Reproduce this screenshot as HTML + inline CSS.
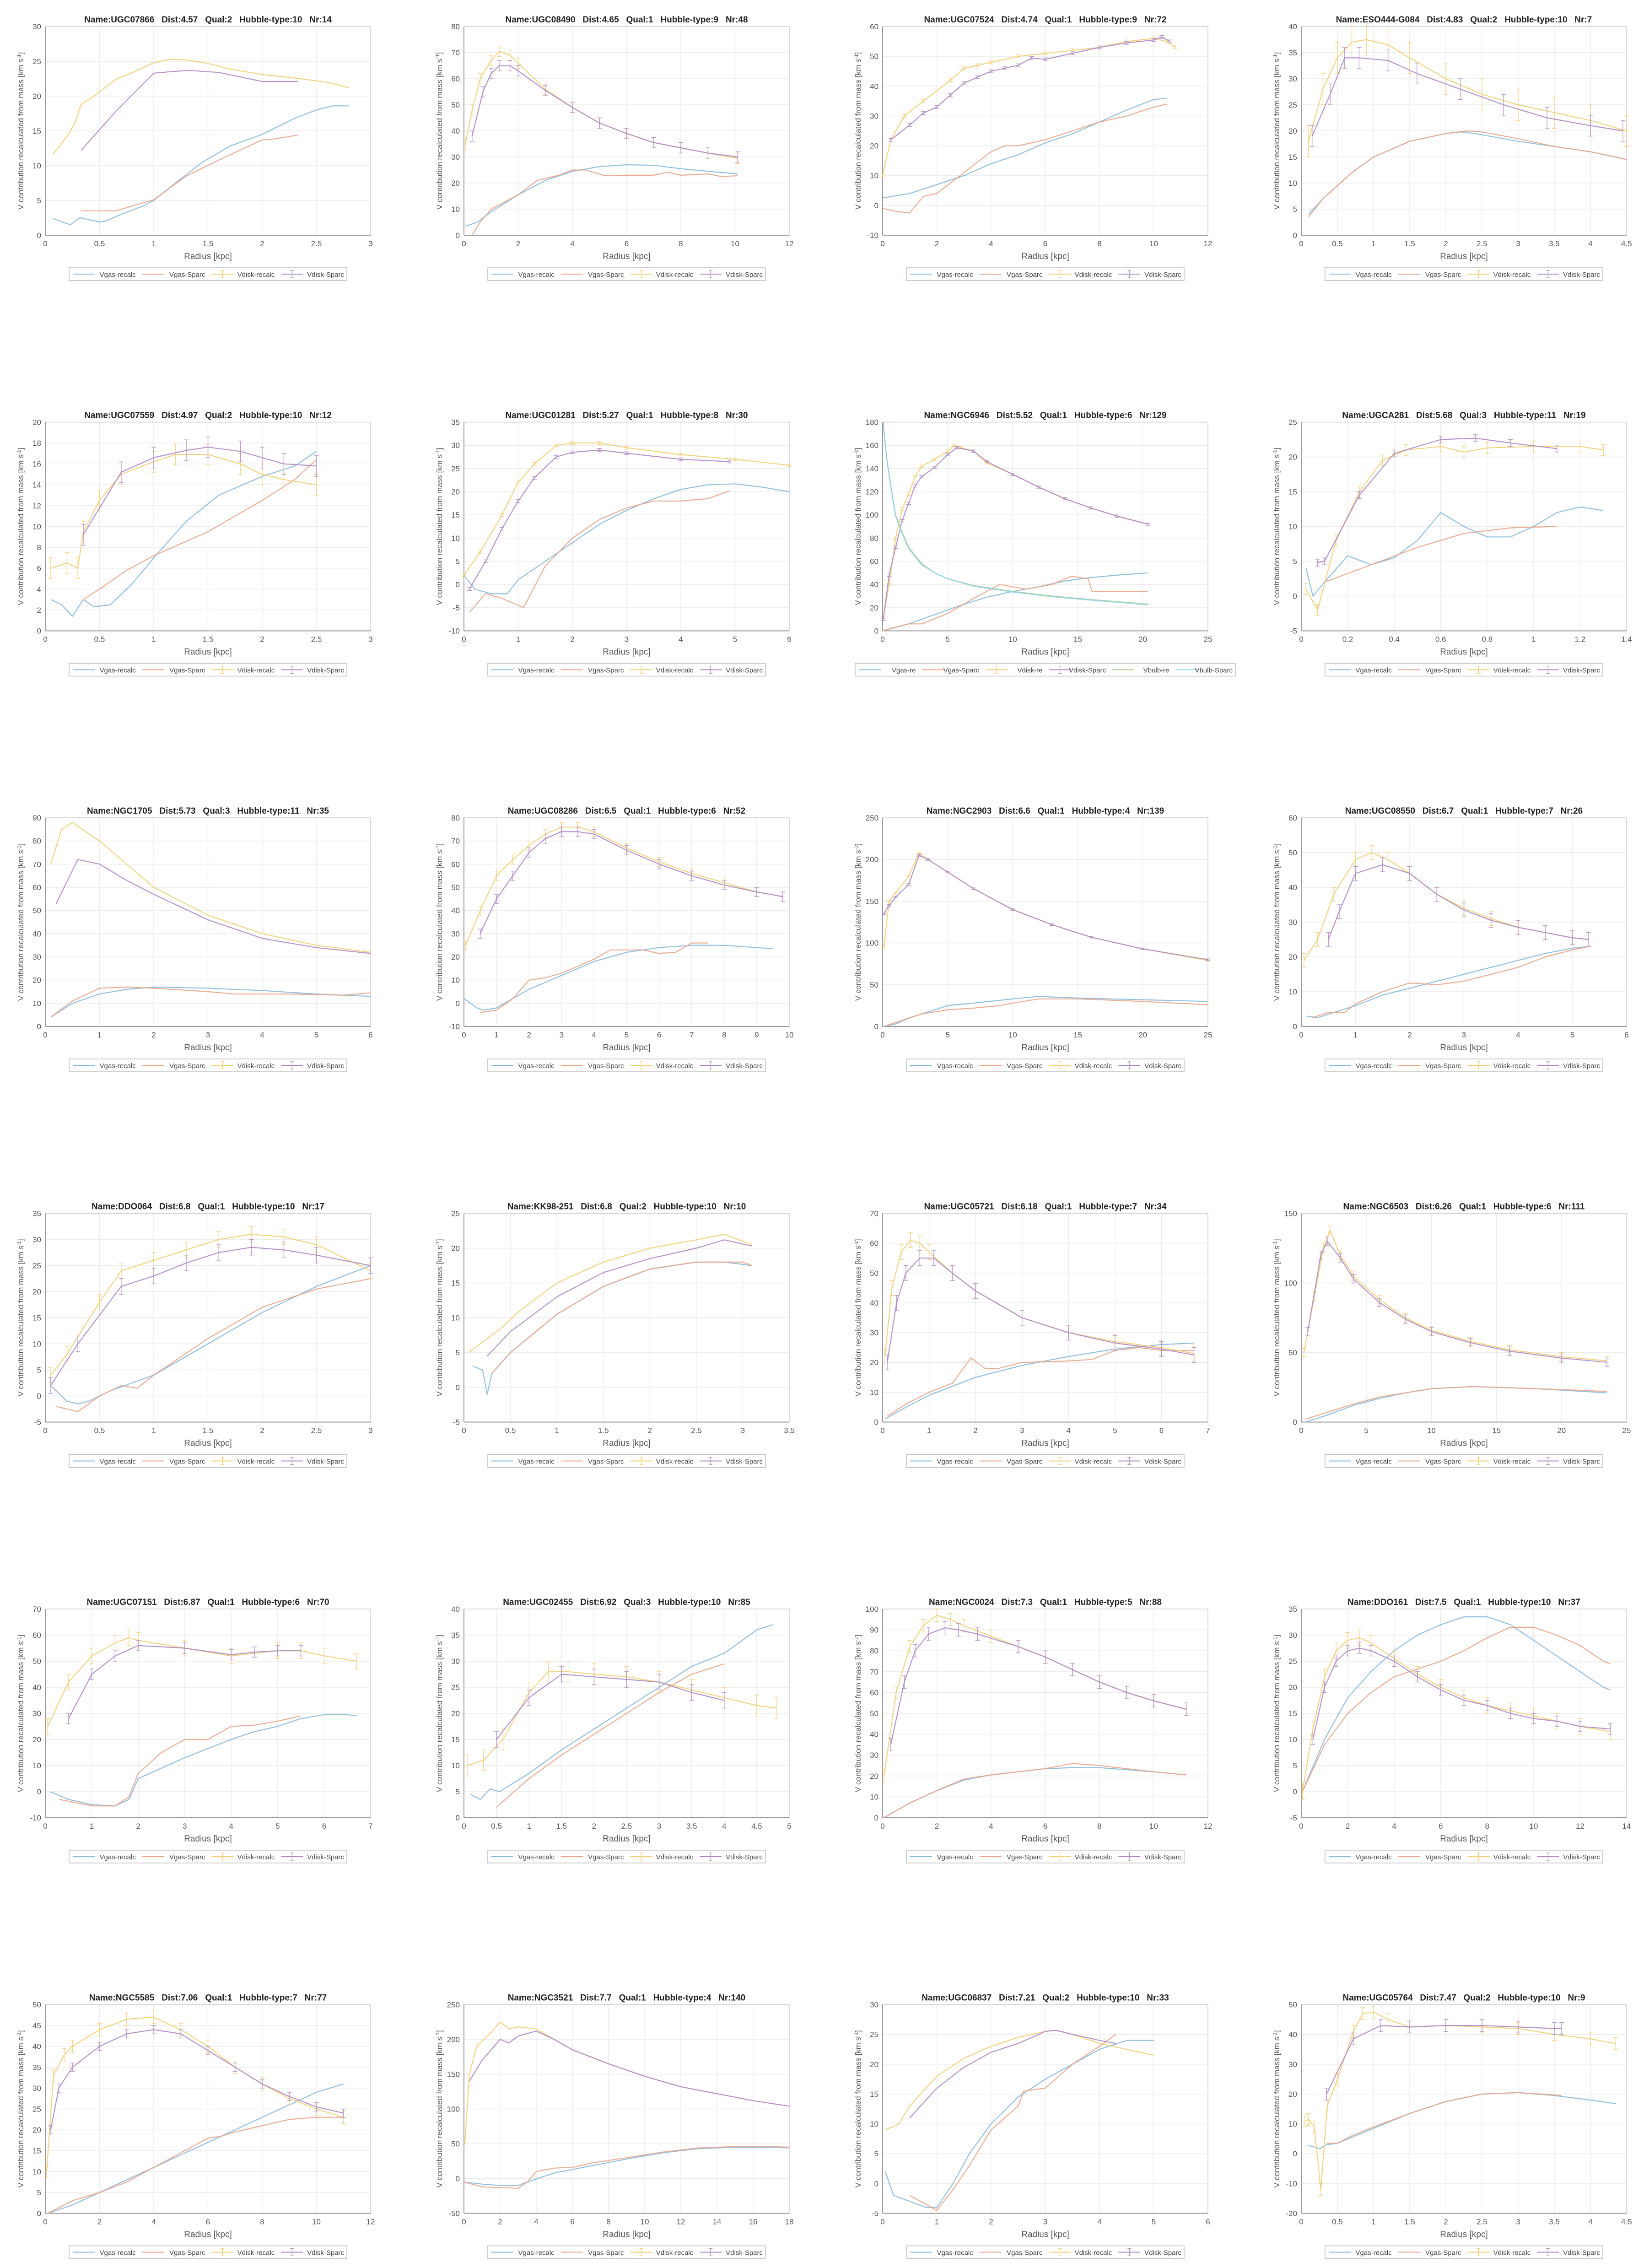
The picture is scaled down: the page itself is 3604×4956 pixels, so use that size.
<!DOCTYPE html>
<html><head><meta charset="utf-8"><title>Rotation curve contributions</title>
<style>
html,body{margin:0;padding:0;background:#fff;}
svg{display:block;}
text{font-family:"Liberation Sans",Arial,sans-serif;}
.ttl{white-space:pre;}
</style></head>
<body>
<svg id="fig" width="3604" height="4956" viewBox="0 0 3604 4956" xmlns="http://www.w3.org/2000/svg"></svg>
<script>
// ---- panel metadata ----
const titles = [
"Name:UGC07866   Dist:4.57   Qual:2   Hubble-type:10   Nr:14",
"Name:UGC08490   Dist:4.65   Qual:1   Hubble-type:9   Nr:48",
"Name:UGC07524   Dist:4.74   Qual:1   Hubble-type:9   Nr:72",
"Name:ESO444-G084   Dist:4.83   Qual:2   Hubble-type:10   Nr:7",
"Name:UGC07559   Dist:4.97   Qual:2   Hubble-type:10   Nr:12",
"Name:UGC01281   Dist:5.27   Qual:1   Hubble-type:8   Nr:30",
"Name:NGC6946   Dist:5.52   Qual:1   Hubble-type:6   Nr:129",
"Name:UGCA281   Dist:5.68   Qual:3   Hubble-type:11   Nr:19",
"Name:NGC1705   Dist:5.73   Qual:3   Hubble-type:11   Nr:35",
"Name:UGC08286   Dist:6.5   Qual:1   Hubble-type:6   Nr:52",
"Name:NGC2903   Dist:6.6   Qual:1   Hubble-type:4   Nr:139",
"Name:UGC08550   Dist:6.7   Qual:1   Hubble-type:7   Nr:26",
"Name:DDO064   Dist:6.8   Qual:1   Hubble-type:10   Nr:17",
"Name:KK98-251   Dist:6.8   Qual:2   Hubble-type:10   Nr:10",
"Name:UGC05721   Dist:6.18   Qual:1   Hubble-type:7   Nr:34",
"Name:NGC6503   Dist:6.26   Qual:1   Hubble-type:6   Nr:111",
"Name:UGC07151   Dist:6.87   Qual:1   Hubble-type:6   Nr:70",
"Name:UGC02455   Dist:6.92   Qual:3   Hubble-type:10   Nr:85",
"Name:NGC0024   Dist:7.3   Qual:1   Hubble-type:5   Nr:88",
"Name:DDO161   Dist:7.5   Qual:1   Hubble-type:10   Nr:37",
"Name:NGC5585   Dist:7.06   Qual:1   Hubble-type:7   Nr:77",
"Name:NGC3521   Dist:7.7   Qual:1   Hubble-type:4   Nr:140",
"Name:UGC06837   Dist:7.21   Qual:2   Hubble-type:10   Nr:33",
"Name:UGC05764   Dist:7.47   Qual:2   Hubble-type:10   Nr:9"];
const xMaxes = [3,12,12,4.5, 3,6,25,1.4, 6,10,25,6, 3,3.5,7,25, 7,5,12,14, 12,18,6,4.5];
const xSteps = [0.5,2,2,0.5, 0.5,1,5,0.2, 1,1,5,1, 0.5,0.5,1,5, 1,0.5,2,2, 2,2,1,0.5];
const yMins  = [0,0,-10,0, 0,-10,0,-5, 0,-10,0,0, -5,-5,0,0, -10,0,0,-5, 0,-50,-5,-20];
const yMaxes = [30,80,60,40, 20,35,180,25, 90,80,250,60, 35,25,70,150, 70,40,100,35, 50,250,30,50];
const ySteps = [5,10,10,5, 2,5,20,5, 10,10,50,10, 5,5,10,50, 10,5,10,5, 5,50,5,10];
const errYellow = [0,2,0.5,3, 1,0.3,1,0.8, 0,2,1,2, 1.5,0,2.5,3, 3,2,3,1.5, 1.5,0,0,2];
const errPurple = [0,2,0.5,2, 1,0.3,1,0.5, 0,2,1,2, 1.5,0,2.5,3, 2,1.5,3,1, 1,0,0,2];

// ---- series data: [radius kpc, velocity km/s] ----
const p01_gasRe=[[0.07,2.4],[0.23,1.5],[0.32,2.5],[0.5,1.9],[0.55,2],[0.7,3],[0.9,4.2],[1,5],[1.2,7.5],[1.45,10.5],[1.7,12.8],[2,14.5],[2.3,16.8],[2.5,18],[2.65,18.6],[2.8,18.6]];
const p01_gasSp=[[0.33,3.5],[0.65,3.5],[1,5.1],[1.3,8.5],[1.6,10.8],[2,13.7],[2.1,13.8],[2.33,14.4]];
const p01_dskRe=[[0.07,11.6],[0.2,14.2],[0.27,16],[0.33,18.8],[0.45,20],[0.65,22.4],[0.85,23.7],[1,24.8],[1.15,25.3],[1.3,25.2],[1.5,24.7],[1.7,23.9],[2,23.1],[2.3,22.6],[2.6,22],[2.8,21.2]];
const p01_dskSp=[[0.33,12.2],[0.65,17.8],[1,23.3],[1.15,23.5],[1.32,23.7],[1.6,23.4],[2,22.1],[2.33,22.1]];

const p02_gasRe=[[0.05,3.5],[0.5,5],[1,9],[2,15.5],[3,21],[4,24.5],[5,26.3],[6,27],[7,26.8],[8,25.5],[9,24.5],[10.1,23.5]];
const p02_gasSp=[[0.3,0],[0.6,5],[1,10],[2,15.5],[2.7,21],[3.5,23],[4,25],[4.5,25],[5.2,22.8],[6,23],[7,23],[7.5,24.2],[8,23],[9,23.5],[9.5,22.5],[10.1,22.8]];
const p02_dskRe=[[0.05,35],[0.3,48],[0.6,60],[1,67],[1.3,70.5],[1.7,69],[2,66],[3,56],[4,49],[5,43],[6,39],[7,35.5],[8,33.5],[9,31.5],[10.1,29.5]];
const p02_dskSp=[[0.3,38],[0.7,55],[1,62],[1.3,65],[1.7,65],[2,63],[3,55.5],[4,49],[5,43],[6,39],[7,35.5],[8,33.5],[9,31.5],[10.1,30]];

const p03_gasRe=[[0,2.5],[1,4],[2,7],[3,10],[4,14],[5,17],[6,21],[7,24],[8,28],[9,32],[10,35.5],[10.5,36]];
const p03_gasSp=[[0,-1],[0.5,-2],[1,-2.5],[1.5,3],[2,4],[3,11],[4,18],[4.5,20],[5,20],[6,22],[7,25],[8,28],[9,30],[10,33],[10.5,34]];
const p03_dskRe=[[0,10],[0.3,22],[0.8,30],[1.5,35],[2.5,42],[3,46],[3.5,47],[4,48],[5,50],[6,51],[7,52],[8,53],[9,55],[10,56],[10.5,55],[10.8,53]];
const p03_dskSp=[[0.3,22],[1,27],[1.5,31],[2,33],[2.5,37],[3,41],[3.5,43],[4,45],[4.5,46],[5,47],[5.5,49.5],[6,49],[7,51],[8,53],[9,54.5],[10,55.5],[10.3,56.5],[10.6,55]];

const p04_gasRe=[[0.1,4],[0.3,7],[0.7,12],[1,15],[1.5,18],[2,19.5],[2.2,19.8],[2.4,19.5],[3,18],[3.5,17],[4,16],[4.5,14.5]];
const p04_gasSp=[[0.1,3.5],[0.3,7],[0.7,12],[1,15],[1.5,18],[2,19.5],[2.3,20],[2.5,19.8],[3,18.5],[3.5,17],[4,16],[4.5,14.5]];
const p04_dskRe=[[0.1,18],[0.3,28],[0.5,34],[0.7,37],[0.9,37.5],[1.2,36.5],[1.5,34],[2,30],[2.5,27],[3,25],[3.5,23.5],[4,22],[4.5,20]];
const p04_dskSp=[[0.15,19],[0.4,27],[0.6,34],[0.8,34],[1.2,33.5],[1.6,31],[2.2,28],[2.8,25],[3.4,22.5],[4,21],[4.45,20]];

const p05_gasRe=[[0.05,3],[0.15,2.5],[0.25,1.4],[0.35,3],[0.45,2.3],[0.6,2.5],[0.8,4.5],[1,7],[1.3,10.5],[1.6,13],[2,14.8],[2.3,15.8],[2.5,17.2]];
const p05_gasSp=[[0.35,3],[0.5,4],[0.75,5.8],[1,7.2],[1.5,9.5],[2,12.5],[2.3,14.5],[2.5,16.4]];
const p05_dskRe=[[0.05,6],[0.2,6.5],[0.3,6],[0.35,9.5],[0.5,12.5],[0.7,15],[1,16.2],[1.2,16.9],[1.5,16.9],[1.8,16],[2,15],[2.2,14.5],[2.5,14]];
const p05_dskSp=[[0.35,9.2],[0.7,15.2],[1,16.6],[1.3,17.3],[1.5,17.6],[1.8,17.2],[2,16.6],[2.2,16],[2.5,15.8]];

const p06_gasRe=[[0,2],[0.2,-1],[0.5,-2],[0.8,-2],[1,1],[1.5,5],[2,9],[2.5,13],[3,16],[3.5,18.5],[4,20.5],[4.5,21.5],[5,21.7],[5.5,21],[6,20]];
const p06_gasSp=[[0.1,-6],[0.4,-2],[0.7,-3],[1.1,-5],[1.5,4],[2,10],[2.5,14],[3,16.5],[3.5,18],[4,18],[4.5,18.5],[4.9,20.2]];
const p06_dskRe=[[0,2],[0.3,7],[0.7,15],[1,22],[1.3,26],[1.7,30],[2,30.5],[2.5,30.5],[3,29.5],[4,28],[5,27],[6,25.7]];
const p06_dskSp=[[0.1,-1],[0.4,5],[0.7,12],[1,18],[1.3,23],[1.7,27.5],[2,28.5],[2.5,29],[3,28.3],[4,27],[4.9,26.5]];

const p07_gasRe=[[0,0],[2,6],[4,14],[6,22],[8,29],[10,34],[12,38],[14,43],[16,46],[18,48],[20.4,50]];
const p07_gasSp=[[0,0],[2,6],[3,6],[5,15],[7,28],[9,40],[11,36],[13,40],[14.5,47],[15.8,45],[16.1,34],[20.4,34]];
const p07_dskRe=[[0.05,10],[0.5,40],[1,80],[1.5,105],[2,118],[2.5,133],[3,142],[4,148],[5,155],[5.5,160],[6,158],[7,155],[8,145],[10,135],[12,124],[14,114],[16,106],[18,99],[20.4,92]];
const p07_dskSp=[[0.05,10],[0.5,48],[1,72],[1.5,95],[2,110],[2.5,125],[3,133],[4,141],[5,152],[5.7,158],[7,155],[8,146],[10,135],[12,124],[14,114],[16,106],[18,99],[20.4,92]];
const p07_blbRe=[[0.05,180],[0.3,150],[0.7,120],[1,100],[1.5,85],[2,72],[3,58],[4,50],[5,45],[7,39],[10,34],[13,30],[16,27],[20.4,23]];
const p07_blbSp=[[0.05,178],[0.3,149],[0.7,119],[1,99],[1.5,84],[2,71],[3,57],[4,50],[5,45],[7,38.5],[10,33.5],[13,29.5],[16,26.5],[20.4,22.5]];

const p08_gasRe=[[0.02,4],[0.05,0],[0.1,2],[0.2,5.8],[0.3,4.5],[0.4,5.5],[0.5,8],[0.6,12],[0.7,10],[0.8,8.5],[0.9,8.5],[1,10],[1.1,12],[1.2,12.8],[1.3,12.3]];
const p08_gasSp=[[0.1,2],[0.3,4.5],[0.5,7],[0.7,9],[0.9,9.8],[1.1,10]];
const p08_dskRe=[[0.02,1],[0.07,-2],[0.15,8],[0.25,15],[0.35,19.5],[0.45,21],[0.6,21.5],[0.7,20.7],[0.8,21.3],[1,21.5],[1.2,21.5],[1.3,21]];
const p08_dskSp=[[0.07,4.8],[0.1,5],[0.25,14.5],[0.4,20.5],[0.6,22.5],[0.75,22.7],[0.9,22],[1.1,21.2]];

const p09_gasRe=[[0.1,4],[0.5,10],[1,14],[1.5,16],[2,17],[3,16.5],[4,15.5],[5,14],[6,13]];
const p09_gasSp=[[0.1,4],[0.5,11],[1,16.5],[1.5,17],[2,16.5],[3,15],[3.5,14],[4.5,14],[5.5,13.5],[6,14.5]];
const p09_dskRe=[[0.1,70],[0.3,85],[0.5,88],[1,80],[1.5,70],[2,60],[3,48],[4,40],[5,35],[6,32]];
const p09_dskSp=[[0.2,53],[0.6,72],[1,70],[1.5,63],[2,57],[3,46],[4,38],[5,34],[6,31.5]];

const p10_gasRe=[[0,2],[0.2,0],[0.4,-2],[0.6,-3],[1,-2],[2,6],[3,12],[4,18],[5,22],[6,24],[7,25],[8,25],[9,24],[9.5,23.5]];
const p10_gasSp=[[0.5,-4],[1,-3],[1.5,2],[2,10],[2.5,11],[3,13],[4,19],[4.5,23],[5.5,23],[6,21.5],[6.5,22],[7,26],[7.5,26]];
const p10_dskRe=[[0.05,25],[0.5,40],[1,55],[1.5,62],[2,68],[2.5,73],[3,76],[3.5,76],[4,74],[5,67],[6,61],[7,56],[8,52],[9,48],[9.8,46]];
const p10_dskSp=[[0.5,30],[1,45],[1.5,55],[2,65],[2.5,71],[3,74],[3.5,74],[4,73],[5,66],[6,60],[7,55],[8,51],[9,48],[9.8,46]];

const p11_gasRe=[[0.1,0],[1,3],[2,10],[3,15],[5,25],[7,28],[10,33],[12,36],[15,34],[20,32],[25,30]];
const p11_gasSp=[[0.1,0],[2,10],[3,15],[5,20],[7,22],[9,25],[10,28],[12,33],[15,33],[20,30],[25,26]];
const p11_dskRe=[[0.1,95],[0.5,150],[1,160],[2,180],[2.8,208],[3.5,200],[5,185],[7,165],[10,140],[13,122],[16,107],[20,93],[25,79]];
const p11_dskSp=[[0.1,135],[0.5,145],[1,155],[2,170],[2.8,205],[3.5,200],[5,185],[7,165],[10,140],[13,122],[16,107],[20,93],[25,80]];

const p12_gasRe=[[0.1,3],[0.3,2.5],[0.6,4],[1,6],[1.5,9],[2,11],[2.5,13],[3,15],[3.5,17],[4,19],[4.5,21],[5,22.5],[5.3,23]];
const p12_gasSp=[[0.2,2.5],[0.5,4],[0.8,4],[1,6.5],[1.5,10],[2,12.5],[2.5,12],[3,13],[3.5,15],[4,17],[4.5,20],[5,22],[5.3,23]];
const p12_dskRe=[[0.05,19],[0.3,25],[0.6,38],[1,48],[1.3,50],[1.6,48],[2,44],[2.5,38],[3,34],[3.5,31],[4,28.5],[4.5,27],[5,25.5],[5.3,25]];
const p12_dskSp=[[0.5,25],[0.7,33],[1,44],[1.5,46.5],[2,44],[2.5,38],[3,33.5],[3.5,30.5],[4,28.5],[4.5,27],[5,25.5],[5.3,25]];

const p13_gasRe=[[0.05,2],[0.1,1],[0.2,-1],[0.3,-1.5],[0.4,-1],[0.6,1],[1,4],[1.5,10],[2,16],[2.5,21],[3,25]];
const p13_gasSp=[[0.1,-2],[0.3,-3],[0.5,0],[0.7,2],[0.85,1.5],[1,4],[1.5,11],[2,17],[2.5,20.5],[3,22.5]];
const p13_dskRe=[[0.05,4],[0.2,8],[0.5,18],[0.7,24],[1,26],[1.3,28],[1.6,30],[1.9,31],[2.2,30.5],[2.5,29],[3,24]];
const p13_dskSp=[[0.05,2],[0.3,10],[0.7,21],[1,23],[1.3,25.5],[1.6,27.5],[1.9,28.5],[2.2,28],[2.5,27],[3,25]];

const p14_gasRe=[[0.1,3],[0.2,2.5],[0.25,-1],[0.3,2],[0.5,5],[1,10.5],[1.5,14.5],[2,17],[2.5,18],[2.8,18],[3.1,17.5]];
const p14_gasSp=[[0.3,2],[0.5,5],[1,10.5],[1.5,14.5],[2,17],[2.5,18],[3,18],[3.1,17.5]];
const p14_dskRe=[[0.05,5],[0.25,7],[0.4,8.5],[0.6,11],[1,15],[1.5,18],[2,20],[2.5,21.2],[2.8,22],[3.1,20.5]];
const p14_dskSp=[[0.25,4.5],[0.5,8],[1,13],[1.5,16.5],[2,18.5],[2.5,20],[2.8,21.2],[3.1,20.3]];

const p15_gasRe=[[0.05,1],[0.5,5],[1,9],[1.5,12],[2,15],[3,19],[4,22],[5,24.5],[6,26],[6.7,26.5]];
const p15_gasSp=[[0.1,2],[0.5,6],[1,10],[1.5,13],[1.9,21.5],[2.2,18],[2.5,18],[3,20],[4,20.5],[4.5,21],[5,24],[5.5,25],[6,24],[6.7,24]];
const p15_dskRe=[[0.05,22],[0.2,45],[0.4,57],[0.6,61],[0.8,60],[1,57],[1.5,50],[2,44],[3,35],[4,30],[5,27],[6,25],[6.7,23]];
const p15_dskSp=[[0.1,20],[0.3,40],[0.5,50],[0.8,55],[1.1,55],[1.5,50],[2,44],[3,35],[4,30],[5,26.5],[6,24.5],[6.7,22.5]];

const p16_gasRe=[[0.3,0],[2,5],[4,12],[6,17],[8,21],[10,24],[13,25.5],[15,25],[18,24],[20,23],[23.5,21]];
const p16_gasSp=[[0.3,2],[2,7],[4,13],[6,18],[8,21],[10,24],[13,25.5],[15,25],[18,24],[21,23],[23.5,22]];
const p16_dskRe=[[0.2,50],[1,90],[1.7,125],[2.2,138],[3,120],[4,105],[6,88],[8,75],[10,66],[13,58],[16,52],[20,47],[23.5,44]];
const p16_dskSp=[[0.5,65],[1.5,120],[2,130],[3,118],[4,103],[6,86],[8,74],[10,65],[13,57],[16,51],[20,46],[23.5,43]];

const p17_gasRe=[[0.1,0],[0.5,-3],[1,-5],[1.5,-5.5],[1.8,-3],[2,5],[3,13],[4,20],[4.5,23],[5,25],[5.5,28],[6,29.5],[6.5,29.5],[6.7,29]];
const p17_gasSp=[[0.3,-3],[1,-5.5],[1.5,-5.5],[1.8,-2],[2,7],[2.5,15],[3,20],[3.5,20],[4,25],[4.5,25.5],[5,27],[5.5,29]];
const p17_dskRe=[[0.05,25],[0.5,42],[1,52],[1.5,57],[1.8,59],[2,58],[3,55],[4,52],[5,54],[5.5,54],[6,52],[6.7,50]];
const p17_dskSp=[[0.5,28],[1,45],[1.5,52],[2,56],[3,55],[4,52.5],[4.5,53.5],[5,54],[5.5,54]];

const p18_gasRe=[[0.1,4.5],[0.25,3.5],[0.4,5.5],[0.55,5],[1,8.5],[1.5,13],[2,17],[2.5,21],[3,25],[3.5,29],[4,31.5],[4.5,36],[4.75,37]];
const p18_gasSp=[[0.5,2],[1,7.5],[1.5,12],[2,16],[2.5,20],[3,24],[3.5,27.5],[4,29.5]];
const p18_dskRe=[[0.05,10],[0.3,11],[0.6,15],[1,24],[1.3,28],[1.6,28],[2,27.5],[2.5,27],[3,26],[3.5,24.5],[4,23],[4.5,21.5],[4.8,21]];
const p18_dskSp=[[0.5,15],[1,23],[1.5,27.5],[2,27],[2.5,26.5],[3,26],[3.5,24],[4,22.5]];

const p19_gasRe=[[0.05,0],[1,7],[2,13],[3,18],[4,20.5],[6,23.5],[7,24],[8,24],[9,23],[10,22],[11.2,20.5]];
const p19_gasSp=[[0.05,0],[1,7],[2,13],[3,18.5],[4,20.5],[6,23.5],[7,26],[8,25],[9,23.5],[10,22],[11.2,20.5]];
const p19_dskRe=[[0.05,20],[0.5,60],[1,82],[1.5,92],[2,97],[2.5,95],[3,92],[4,87],[5,82],[6,77],[7,71],[8,65],[9,60],[10,56],[11.2,52]];
const p19_dskSp=[[0.3,35],[0.8,65],[1.2,80],[1.7,88],[2.3,91],[2.8,90],[3.5,88],[5,82],[6,77],[7,71],[8,65],[9,60],[10,56],[11.2,52]];

const p20_gasRe=[[0.05,0],[1,10],[2,18],[3,23],[4,27],[5,30],[6,32],[7,33.5],[8,33.5],[9,32],[10,29],[11,26],[12,23],[13,20],[13.3,19.5]];
const p20_gasSp=[[0.05,0],[1,9],[2,15],[3,19],[4,22],[5,23.5],[6,25],[7,27],[8,29.5],[9,31.5],[10,31.5],[11,30],[12,28],[13,25],[13.3,24.5]];
const p20_dskRe=[[0.05,0],[0.5,12],[1,22],[1.5,27],[2,29],[2.5,29.5],[3,28.5],[4,25.5],[5,22.5],[6,20],[7,18],[8,16.5],[9,15.5],[10,14.5],[11,13.5],[12,12.5],[13.3,11.5]];
const p20_dskSp=[[0.5,10],[1,20],[1.5,25],[2,27],[2.5,27.5],[3,27],[4,25],[5,22],[6,19.5],[7,17.5],[8,16.5],[9,15],[10,14],[11,13.5],[12,12.5],[13.3,12]];

const p21_gasRe=[[0.1,0],[1,2],[2,5],[3,8],[4,11],[5,14],[6,17],[7,20],[8,23],[9,26],[10,29],[11,31]];
const p21_gasSp=[[0.1,0],[1,3],[2,5],[3,7.5],[4,11],[5,14.5],[6,18],[6.5,18.5],[7,19.5],[8,21],[9,22.5],[10,23],[11,23]];
const p21_dskRe=[[0.05,10],[0.3,33],[0.7,38],[1,40],[2,44],[3,46.5],[4,47],[5,44],[6,40],[7,35],[8,31],[9,27.5],[10,25],[11,23]];
const p21_dskSp=[[0.2,20],[0.5,30],[1,35],[2,40],[3,43],[4,44],[5,43],[6,39],[7,35],[8,31],[9,28],[10,25.5],[11,24]];

const p22_gasRe=[[0,-5],[1,-8],[2,-10],[3,-10],[3.5,-5],[5,8],[7,18],[9,28],[11,37],[13,43],[15,45],[17,45],[18,44]];
const p22_gasSp=[[0,-5],[1,-12],[2,-13],[3,-14],[3.5,-5],[4,10],[5,15],[6,16],[7,22],[9,30],[11,38],[13,44],[15,46],[17,46],[18,45]];
const p22_dskRe=[[0.05,50],[0.3,150],[0.7,190],[1.5,210],[2,225],[2.5,215],[3,218],[4,215],[5,200],[6,185],[8,165],[10,147],[12,132],[14,122],[16,112],[18,104]];
const p22_dskSp=[[0.3,140],[1,170],[2,200],[2.5,195],[3,205],[4,212],[5,200],[6,185],[8,165],[10,147],[12,132],[14,122],[16,112],[18,104]];

const p23_gasRe=[[0.05,2],[0.2,-2],[0.5,-3],[0.8,-4],[1,-4],[1.3,0],[1.6,5],[2,10],[2.5,14.5],[3,17.5],[3.5,20],[4,22.5],[4.5,24],[5,24]];
const p23_gasSp=[[0.5,-2],[1,-4.5],[1.3,-1],[1.6,3],[2,9],[2.5,13],[2.6,15.5],[3,16],[3.5,20],[4,23],[4.3,25]];
const p23_dskRe=[[0.05,9],[0.3,10],[0.5,13],[1,18],[1.5,21],[2,23],[2.5,24.5],[3,25.5],[3.2,25.7],[3.5,25],[4,23.5],[4.5,22.5],[5,21.5]];
const p23_dskSp=[[0.5,11],[1,16],[1.5,19.5],[2,22],[2.5,23.5],[3,25.5],[3.2,25.7],[3.5,25],[4,24],[4.3,23.5]];

const p24_gasRe=[[0.1,2.8],[0.25,1.7],[0.35,3],[0.5,3.5],[0.7,5.5],[1,8.5],[1.5,13.5],[2,17.5],[2.5,20],[3,20.5],[3.5,19.5],[4,18],[4.35,16.8]];
const p24_gasSp=[[0.35,3.5],[0.5,3.5],[0.7,6],[1,9],[1.5,13.5],[2,17.5],[2.5,20],[3,20.5],[3.5,19.7],[3.6,19.5]];
const p24_dskRe=[[0.05,11],[0.1,11.5],[0.18,9],[0.27,-12],[0.36,16],[0.5,25],[0.72,41],[0.85,47],[1,47.5],[1.2,45],[1.5,42.5],[2,43],[2.5,42.5],[3,42],[3.5,40],[4,38.5],[4.35,37]];
const p24_dskSp=[[0.35,20],[0.72,38.5],[1.1,43],[1.5,42.5],[2,43],[2.5,43],[3,42.5],[3.5,42],[3.6,42]];

const gasRe=[p01_gasRe,p02_gasRe,p03_gasRe,p04_gasRe,p05_gasRe,p06_gasRe,p07_gasRe,p08_gasRe,p09_gasRe,p10_gasRe,p11_gasRe,p12_gasRe,p13_gasRe,p14_gasRe,p15_gasRe,p16_gasRe,p17_gasRe,p18_gasRe,p19_gasRe,p20_gasRe,p21_gasRe,p22_gasRe,p23_gasRe,p24_gasRe];
const gasSp=[p01_gasSp,p02_gasSp,p03_gasSp,p04_gasSp,p05_gasSp,p06_gasSp,p07_gasSp,p08_gasSp,p09_gasSp,p10_gasSp,p11_gasSp,p12_gasSp,p13_gasSp,p14_gasSp,p15_gasSp,p16_gasSp,p17_gasSp,p18_gasSp,p19_gasSp,p20_gasSp,p21_gasSp,p22_gasSp,p23_gasSp,p24_gasSp];
const dskRe=[p01_dskRe,p02_dskRe,p03_dskRe,p04_dskRe,p05_dskRe,p06_dskRe,p07_dskRe,p08_dskRe,p09_dskRe,p10_dskRe,p11_dskRe,p12_dskRe,p13_dskRe,p14_dskRe,p15_dskRe,p16_dskRe,p17_dskRe,p18_dskRe,p19_dskRe,p20_dskRe,p21_dskRe,p22_dskRe,p23_dskRe,p24_dskRe];
const dskSp=[p01_dskSp,p02_dskSp,p03_dskSp,p04_dskSp,p05_dskSp,p06_dskSp,p07_dskSp,p08_dskSp,p09_dskSp,p10_dskSp,p11_dskSp,p12_dskSp,p13_dskSp,p14_dskSp,p15_dskSp,p16_dskSp,p17_dskSp,p18_dskSp,p19_dskSp,p20_dskSp,p21_dskSp,p22_dskSp,p23_dskSp,p24_dskSp];

const legendStd = ["Vgas-recalc","Vgas-Sparc","Vdisk-recalc","Vdisk-Sparc"];
const legendBulge = ["Vgas-re","Vgas-Sparc","Vdisk-re","Vdisk-Sparc","Vbulb-re","Vbulb-Sparc"];

// ---- drawing ----
const NS="http://www.w3.org/2000/svg";
const svg=document.getElementById('fig');
const COL=["#86b8dc","#e9a488","#f1cf72","#ad88c4","#a8cc86","#8fd2ee"];
const AX_L=99, COL_P=915, AX_W=711, AX_T=58, ROW_P=864.5, AX_H=456;
function mk(tag,attrs,parent){const e=document.createElementNS(NS,tag);for(const k in attrs)e.setAttribute(k,attrs[k]);(parent||svg).appendChild(e);return e;}
function fmt(v){return String(Math.round(v*1000)/1000);}

for(let i=0;i<24;i++){
  const r=Math.floor(i/4), c=i%4;
  const L=AX_L+c*COL_P, T=AX_T+r*ROW_P, R=L+AX_W, B=T+AX_H;
  const g=mk('g',{});
  
  
  const xs=v=>L+v/xMaxes[i]*AX_W;
  const ys=v=>B-(v-yMins[i])/(yMaxes[i]-yMins[i])*AX_H;
  const nx=Math.round(xMaxes[i]/xSteps[i]);
  for(let k=0;k<=nx;k++){
    const v=k*xSteps[i], X=xs(v);
    mk('line',{x1:X,y1:T,x2:X,y2:B,stroke:'#ececec','stroke-width':1.5},g);
    const t=mk('text',{x:X,y:B+24,'text-anchor':'middle','font-size':17,fill:'#555'},g);
    t.textContent=fmt(v);
    
    
  }
  const ny=Math.round((yMaxes[i]-yMins[i])/ySteps[i]);
  for(let k=0;k<=ny;k++){
    const v=yMins[i]+k*ySteps[i], Y=ys(v);
    mk('line',{x1:L,y1:Y,x2:R,y2:Y,stroke:'#ececec','stroke-width':1.5},g);
    const t=mk('text',{x:L-9,y:Y+6,'text-anchor':'end','font-size':17,fill:'#555'},g);
    t.textContent=fmt(v);
    
    
  }
  mk('rect',{x:L,y:T,width:AX_W,height:AX_H,fill:'none',stroke:'#d0d0d0','stroke-width':1.5},g);
  mk('line',{x1:L,y1:B,x2:R,y2:B,stroke:'#9a9a9a','stroke-width':2},g);
  mk('line',{x1:L,y1:T,x2:L,y2:B,stroke:'#9a9a9a','stroke-width':2},g);
  const tt=mk('text',{x:L+AX_W/2,y:T-9,'text-anchor':'middle','font-size':19,'font-weight':'bold',fill:'#222','class':'ttl'},g);
  tt.textContent=titles[i];
  
  
  const xl=mk('text',{x:L+AX_W/2,y:B+52,'text-anchor':'middle','font-size':19,fill:'#555'},g);
  xl.textContent='Radius [kpc]';
  
  
  const yl=mk('text',{x:0,y:0,'text-anchor':'middle','font-size':17,fill:'#555',transform:`translate(${L-48},${T+AX_H/2}) rotate(-90)`},g);
  yl.innerHTML='V contribution recalculated from mass [km s<tspan baseline-shift="super" font-size="11">-1</tspan>]';
  
  
  const series=[gasRe[i],gasSp[i],dskRe[i],dskSp[i]];
  if(i===6){series.push(p07_blbRe,p07_blbSp);}
  const errs=[0,0,errYellow[i],errPurple[i],0,0];
  const snames=['vgas-recalc-line','vgas-sparc-line','vdisk-recalc-line','vdisk-sparc-line','vbulb-recalc-line','vbulb-sparc-line'];
  series.forEach((s,si)=>{
    if(errs[si]>0){
      s.forEach(p=>{
        const X=xs(p[0]), y1=ys(p[1]-errs[si]), y2=ys(p[1]+errs[si]);
        const eb=mk('path',{d:`M${X},${y1}V${y2}M${X-5},${y1}H${X+5}M${X-5},${y2}H${X+5}`,stroke:COL[si],'stroke-width':1.4,fill:'none',opacity:0.85},g);
        
        
      });
    }
    const d=s.map((p,k)=>(k?'L':'M')+xs(p[0]).toFixed(1)+','+ys(p[1]).toFixed(1)).join('');
    const pl=mk('path',{d:d,stroke:COL[si],'stroke-width':2.2,fill:'none','stroke-linejoin':'round',opacity:0.9},g);
    
    
  });
  const labs = i===6 ? legendBulge : legendStd;
  const LW = i===6 ? 831 : 607, EW = LW/labs.length;
  const lx = L+AX_W/2-LW/2, ly=B+71;
  const lg=mk('g',{},g);
  
  
  mk('rect',{x:lx,y:ly,width:LW,height:28,fill:'#fff',stroke:'#bdbdbd','stroke-width':1.5},lg);
  labs.forEach((lab,k)=>{
    const ex=lx+k*EW;
    mk('line',{x1:ex+8,y1:ly+14,x2:ex+56,y2:ly+14,stroke:COL[k],'stroke-width':2},lg);
    if(k===2||k===3){mk('path',{d:`M${ex+32},${ly+6}V${ly+22}M${ex+28},${ly+6}H${ex+36}M${ex+28},${ly+22}H${ex+36}`,stroke:k===3?'#9a9a9a':COL[k],'stroke-width':1.3,fill:'none'},lg);}
    const t=mk('text',{x:ex+EW-6,y:ly+20,'text-anchor':'end','font-size':15,fill:'#444'},lg);
    t.textContent=lab;
    
    
  });
}
</script>
</body></html>
